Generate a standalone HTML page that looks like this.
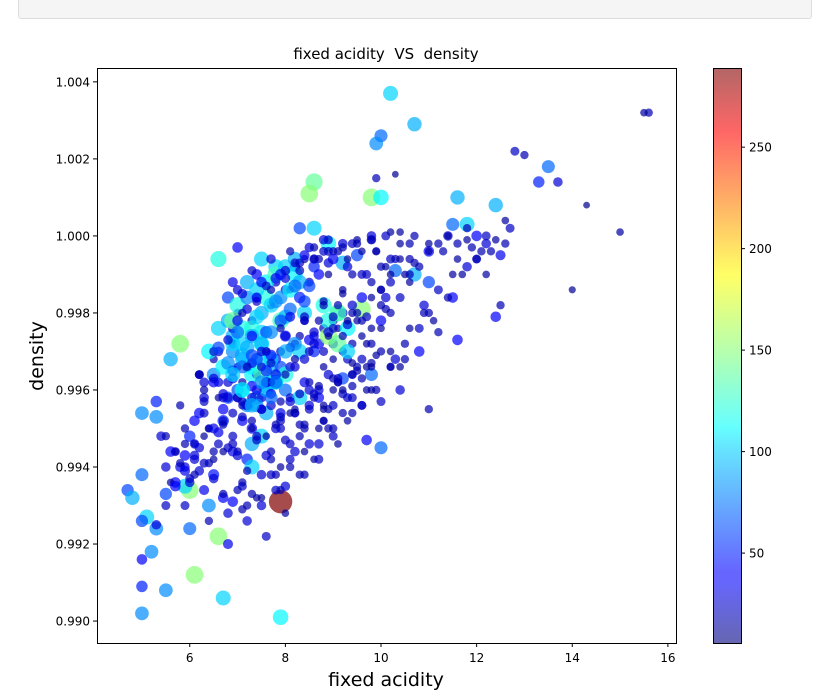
<!DOCTYPE html>
<html><head><meta charset="utf-8"><style>
body{margin:0;background:#fff;width:816px;height:700px;overflow:hidden;font-family:"Liberation Sans","DejaVu Sans",sans-serif}
svg text{font-family:"DejaVu Sans","Liberation Sans",sans-serif}
</style></head><body>
<div style="position:absolute;left:18px;top:-2px;width:792px;height:19px;background:#f5f5f5;border:1px solid #ddd;border-radius:3px"></div>
<svg id="chart" width="816" height="700" style="position:absolute;left:0;top:0">
<defs>
<linearGradient id="jet" x1="0" y1="1" x2="0" y2="0">
<stop offset="0" stop-color="#00007f"/><stop offset="0.11" stop-color="#0000ff"/><stop offset="0.125" stop-color="#0000ff"/><stop offset="0.34" stop-color="#00d4ff"/><stop offset="0.375" stop-color="#0ff"/><stop offset="0.5" stop-color="#7fff7f"/><stop offset="0.64" stop-color="#ff0"/><stop offset="0.89" stop-color="#f00"/><stop offset="1" stop-color="#7f0000"/>
</linearGradient></defs>
<g id="plot"></g>
<rect x="97.5" y="68.5" width="579" height="575" fill="none" stroke="#000" stroke-width="1"/>
<text x="386" y="59" font-size="15" text-anchor="middle">fixed acidity &#160;VS &#160;density</text>
<text x="386" y="686" font-size="19" text-anchor="middle">fixed acidity</text>
<text transform="translate(43,356) rotate(-90)" font-size="19" text-anchor="middle">density</text>
<rect x="713" y="68" width="28" height="575" fill="url(#jet)" opacity="0.6"/>
<rect x="713.5" y="68.5" width="28" height="575" fill="none" stroke="#000"/>
<g id="axes"></g>
</svg>
<script>
const acidity=[15.6,15.5,15.0,14.3,14.0,13.5,13.3,13.7,12.8,13.0,12.4,12.0,12.2,12.5,12.6,11.6,11.5,11.8,10.2,10.7,10.0,9.9,9.8,10.0,8.6,8.5,8.3,8.6,9.9,10.3,9.5,9.2,8.9,6.6,7.5,7.0,5.8,5.6,5.3,5.3,5.0,4.7,4.8,5.0,5.1,5.0,5.3,5.2,5.0,5.0,5.0,5.5,6.1,6.7,7.9,7.9,6.6,6.0,6.4,5.5,6.0,5.9,5.9,6.0,6.2,7.2,7.3,8.0,7.1,6.8,10.0,9.7,11.0,10.4,9.8,9.2,8.7,9.8,10.8,11.2,11.6,12.4,12.5,11.5,11.0,10.7,10.3,10.9,10.0,9.6,9.1,8.8,8.4,7.9,7.5,7.7,7.6,7.8,7.3,7.1,6.9,
6.3,6.5,6.7,6.9,7.0,7.2,7.4,7.6,7.8,8.0,8.2,8.4,8.6,8.8,9.0,9.2,9.4,9.6,9.8,10.0,
6.2,6.4,6.6,6.8,7.0,7.2,7.4,7.6,7.8,8.0,8.2,8.4,8.6,8.8,9.0,9.2,9.4,9.6,9.8,10.2,
6.1,6.3,6.5,6.7,6.9,7.1,7.3,7.5,7.7,7.9,8.1,8.3,8.5,8.7,8.9,9.1,9.3,9.5,9.7,10.1,
5.9,6.1,6.3,6.5,6.7,6.9,7.1,7.3,7.5,7.7,7.9,8.1,8.3,8.5,8.7,8.9,9.1,9.3,9.5,9.9,
5.7,5.9,6.1,6.3,6.5,6.7,6.9,7.1,7.3,7.5,7.7,7.9,8.1,8.3,8.5,8.7,8.9,9.3,9.7,10.5,
5.5,5.7,5.9,6.1,6.3,6.5,6.7,6.9,7.1,7.3,7.5,7.7,7.9,8.1,8.4,8.8,9.2,9.6,10.4,11.0,
5.4,5.6,5.8,6.2,6.6,7.0,7.4,7.8,8.2,8.6,9.0,9.4,9.8,10.2,10.6,11.0,11.4,11.8,12.2,12.6,
6.8,7.0,7.2,7.4,7.6,7.8,8.0,8.2,8.4,8.6,8.8,9.0,9.2,9.4,9.6,9.8,10.0,10.2,10.4,10.6,
7.0,7.3,7.6,7.9,8.2,8.5,8.8,9.1,9.4,9.7,10.0,10.3,10.6,10.9,11.2,11.5,11.8,12.1,12.4,12.7,
6.4,6.6,6.8,7.0,7.2,7.4,7.6,7.8,8.0,8.2,6.5,6.7,6.9,7.1,7.3,7.5,7.7,7.9,8.1,8.3,
7.2,7.5,7.8,8.1,8.4,8.7,9.0,9.3,9.6,9.9,10.2,10.5,10.8,11.1,11.4,11.7,12.0,12.3,9.0,9.5,
5.6,5.8,6.0,6.2,6.4,6.6,6.8,7.0,7.2,7.4,7.6,7.8,8.0,8.2,8.4,8.6,9.0,9.4,9.8,10.2,
6.9,7.1,7.3,7.5,7.7,6.9,7.1,7.3,7.5,7.7,8.9,9.1,9.3,8.9,9.1,9.3,7.6,7.8,8.0,7.4,
6.3,6.5,6.7,6.9,7.1,7.3,7.5,7.7,7.9,8.1,8.3,8.5,8.7,8.9,9.1,9.3,9.5,9.7,9.9,10.1,
6.4,6.6,6.8,7.0,7.2,7.4,7.6,7.8,8.0,8.2,8.4,8.6,8.8,9.0,9.2,9.4,9.6,9.8,10.0,10.2,
6.2,6.5,6.8,7.1,7.4,7.7,8.0,8.3,8.6,8.9,9.2,9.5,9.8,10.1,10.4,10.7,11.0,11.3,11.6,11.9,
6.6,6.8,7.0,7.2,7.4,7.6,7.8,8.0,8.2,8.4,6.7,6.9,7.1,7.3,7.5,7.7,7.9,8.1,8.3,8.5,
5.8,6.0,6.2,6.4,6.6,6.8,7.0,7.2,7.4,7.6,7.8,8.0,8.2,8.4,8.6,8.8,9.0,9.2,9.4,9.6,
6.9,7.1,7.3,7.5,7.7,7.9,8.1,8.3,8.5,8.7,8.9,9.1,9.3,9.5,9.7,9.9,10.1,10.3,10.5,10.7,
5.5,5.7,5.9,6.1,6.3,6.5,6.7,6.9,7.1,7.3,7.5,7.7,7.9,8.1,8.3,8.5,8.7,8.9,9.1,9.3,
7.0,7.2,7.4,7.6,7.8,8.0,8.2,8.4,8.6,8.8,7.1,7.3,7.5,7.7,7.9,8.1,8.3,8.5,8.7,8.9,
8.8,9.0,9.2,9.4,9.6,9.8,10.0,10.2,10.4,10.6,10.8,11.0,11.2,11.4,11.6,11.8,12.0,12.2,9.4,10.0,
5.3,5.5,5.7,5.9,6.1,6.3,6.5,6.7,6.9,7.1,7.3,7.5,7.7,7.9,8.1,8.3,8.5,8.7,8.9,9.1,
6.8,7.0,7.2,7.4,7.6,7.8,8.0,8.2,8.4,8.6,8.8,9.0,9.2,9.4,9.6,9.8,10.0,10.2,10.4,10.6,
7.4,7.6,7.8,8.0,8.2,7.3,7.5,7.7,7.9,8.1,6.9,7.1,7.3,7.5,7.7,8.4,8.6,8.8,9.0,9.2];
const density=[1.0032,1.0032,1.0001,1.0008,0.9986,1.0018,1.0014,1.0014,1.0022,1.0021,1.0008,1.0000,0.9998,0.9995,0.9998,1.0010,1.0003,1.0003,1.0037,1.0029,1.0026,1.0024,1.0010,1.0010,1.0014,1.0011,1.0002,1.0002,1.0015,1.0016,0.9995,0.9993,0.9998,0.9994,0.9994,0.9997,0.9972,0.9968,0.9957,0.9953,0.9954,0.9934,0.9932,0.9938,0.9927,0.9926,0.9924,0.9918,0.9916,0.9909,0.9902,0.9908,0.9912,0.9906,0.9901,0.9931,0.9922,0.9924,0.9930,0.9933,0.9934,0.9935,0.9943,0.9948,0.9939,0.9942,0.9940,0.9935,0.9929,0.9928,0.9945,0.9947,0.9955,0.9960,0.9964,0.9963,0.9958,0.9967,0.9970,0.9975,0.9973,0.9979,0.9982,0.9984,0.9988,0.9990,0.9991,0.9982,0.9978,0.9981,0.9980,0.9982,0.9980,0.9978,0.9975,0.9966,0.9961,0.9963,0.9964,0.9969,0.9974,
0.9962,0.9968,0.9955,0.9972,0.9960,0.9966,0.9958,0.9970,0.9962,0.9974,0.9966,0.9978,0.9970,0.9976,0.9968,0.9980,0.9972,0.9984,0.9976,0.9986,
0.9954,0.9950,0.9962,0.9958,0.9966,0.9956,0.9964,0.9954,0.9968,0.9960,0.9972,0.9962,0.9974,0.9966,0.9978,0.9970,0.9982,0.9974,0.9988,0.9990,
0.9946,0.9958,0.9944,0.9952,0.9948,0.9960,0.9950,0.9968,0.9956,0.9966,0.9958,0.9970,0.9962,0.9972,0.9964,0.9976,0.9968,0.9980,0.9972,0.9984,
0.9940,0.9952,0.9960,0.9964,0.9944,0.9976,0.9952,0.9978,0.9948,0.9982,0.9954,0.9986,0.9958,0.9988,0.9960,0.9990,0.9962,0.9992,0.9966,0.9996,
0.9936,0.9946,0.9942,0.9948,0.9938,0.9952,0.9944,0.9956,0.9946,0.9958,0.9942,0.9952,0.9954,0.9948,0.9956,0.9950,0.9955,0.9958,0.9960,0.9968,
0.9940,0.9944,0.9930,0.9938,0.9934,0.9942,0.9932,0.9946,0.9936,0.9950,0.9938,0.9944,0.9940,0.9946,0.9950,0.9952,0.9954,0.9956,0.9966,0.9980,
0.9948,0.9936,0.9956,0.9964,0.9970,0.9980,0.9984,0.9988,0.9992,0.9994,0.9996,0.9998,1.0000,1.0001,0.9998,0.9996,1.0000,1.0002,1.0000,1.0004,
0.9984,0.9986,0.9988,0.9990,0.9984,0.9992,0.9986,0.9990,0.9994,0.9992,0.9996,0.9994,0.9998,0.9990,0.9996,0.9999,0.9986,0.9994,0.9998,0.9994,
0.9958,0.9952,0.9948,0.9950,0.9954,0.9960,0.9956,0.9962,0.9958,0.9966,0.9970,0.9968,0.9976,0.9980,0.9986,0.9990,0.9992,0.9996,0.9999,1.0002,
0.9970,0.9976,0.9978,0.9982,0.9984,0.9986,0.9988,0.9990,0.9992,0.9994,0.9962,0.9966,0.9970,0.9972,0.9976,0.9980,0.9982,0.9984,0.9986,0.9988,
0.9930,0.9932,0.9934,0.9940,0.9944,0.9946,0.9950,0.9952,0.9956,0.9960,0.9966,0.9972,0.9976,0.9978,0.9984,0.9990,0.9994,0.9996,0.9972,0.9978,
0.9944,0.9940,0.9936,0.9964,0.9926,0.9958,0.9920,0.9934,0.9926,0.9932,0.9922,0.9938,0.9928,0.9944,0.9938,0.9942,0.9948,0.9954,0.9960,0.9966,
0.9972,0.9968,0.9966,0.9964,0.9962,0.9978,0.9976,0.9974,0.9972,0.9968,0.9978,0.9980,0.9976,0.9974,0.9972,0.9970,0.9960,0.9962,0.9964,0.9956,
0.9957,0.9963,0.9951,0.9965,0.9953,0.9967,0.9955,0.9969,0.9957,0.9971,0.9959,0.9973,0.9961,0.9975,0.9963,0.9977,0.9965,0.9979,0.9969,0.9981,
0.9950,0.9946,0.9958,0.9944,0.9956,0.9948,0.9962,0.9950,0.9964,0.9954,0.9968,0.9958,0.9970,0.9960,0.9974,0.9964,0.9978,0.9966,0.9982,0.9970,
0.9964,0.9970,0.9973,0.9980,0.9983,0.9986,0.9989,0.9991,0.9994,0.9996,0.9997,0.9999,0.9999,1.0000,1.0001,1.0000,0.9998,0.9996,0.9994,0.9997,
0.9971,0.9967,0.9975,0.9971,0.9979,0.9975,0.9983,0.9979,0.9987,0.9983,0.9959,0.9963,0.9957,0.9961,0.9955,0.9959,0.9953,0.9957,0.9951,0.9955,
0.9941,0.9937,0.9945,0.9941,0.9949,0.9945,0.9943,0.9939,0.9947,0.9943,0.9951,0.9947,0.9955,0.9951,0.9959,0.9955,0.9963,0.9959,0.9967,0.9963,
0.9988,0.9985,0.9991,0.9988,0.9994,0.9990,0.9996,0.9993,0.9997,0.9994,0.9999,0.9996,0.9994,0.9998,0.9990,0.9996,0.9992,0.9994,0.9990,0.9993,
0.9948,0.9944,0.9950,0.9946,0.9954,0.9950,0.9958,0.9954,0.9962,0.9958,0.9966,0.9962,0.9970,0.9966,0.9974,0.9970,0.9978,0.9974,0.9982,0.9978,
0.9978,0.9981,0.9984,0.9987,0.9989,0.9991,0.9993,0.9995,0.9997,0.9999,0.9966,0.9969,0.9972,0.9975,0.9978,0.9981,0.9984,0.9987,0.9990,0.9993,
0.9952,0.9956,0.9960,0.9964,0.9968,0.9972,0.9976,0.9980,0.9984,0.9988,0.9992,0.9996,0.9998,1.0000,0.9998,0.9999,0.9994,0.9990,0.9961,0.9957,
0.9925,0.9930,0.9935,0.9939,0.9943,0.9941,0.9937,0.9933,0.9931,0.9935,0.9933,0.9930,0.9938,0.9934,0.9942,0.9938,0.9946,0.9942,0.9950,0.9946,
0.9962,0.9958,0.9966,0.9960,0.9970,0.9964,0.9974,0.9968,0.9978,0.9972,0.9982,0.9976,0.9986,0.9980,0.9990,0.9984,0.9992,0.9988,0.9994,0.9990,
0.9968,0.9965,0.9962,0.9970,0.9972,0.9974,0.9970,0.9967,0.9976,0.9979,0.9964,0.9960,0.9956,0.9962,0.9958,0.9979,0.9975,0.9983,0.9979,0.9985];
const sulfur=[20,15,15,10,12,70,50,30,25,20,90,40,30,35,20,90,70,100,100,90,70,80,150,110,140,150,60,100,20,10,60,90,110,120,100,40,150,90,50,80,80,60,90,70,100,60,80,80,40,50,80,80,150,100,110,289,150,70,80,60,150,100,40,50,30,50,100,30,20,30,70,40,20,30,70,60,40,20,40,20,40,40,20,40,60,90,70,30,40,150,140,120,100,130,100,90,100,130,110,100,90,
30,20,40,25,60,35,80,20,90,45,30,20,50,25,15,30,20,40,15,20,
40,15,30,60,20,80,25,90,40,70,20,35,30,15,25,20,30,15,20,15,
15,30,20,50,25,90,40,100,30,60,25,100,20,40,30,15,25,20,15,30,
30,40,20,80,15,30,40,25,100,20,35,15,100,25,30,15,20,30,20,15,
40,20,30,15,45,25,35,20,90,30,20,25,15,20,30,15,20,25,15,20,
30,15,25,20,35,15,40,25,20,15,30,20,15,25,20,15,20,25,15,20,
30,15,20,25,30,20,35,25,40,30,20,25,30,15,20,40,30,20,25,15,
60,30,90,40,120,100,30,110,20,50,25,40,30,20,15,30,20,25,15,20,
30,20,15,25,20,30,15,20,25,15,20,30,15,20,25,15,30,20,15,25,
110,100,90,120,80,100,110,130,100,90,40,110,80,100,120,90,100,80,110,90,
20,15,25,20,15,30,20,15,25,20,15,20,25,15,20,15,25,20,30,15,
40,35,30,25,20,15,35,20,30,15,25,20,15,30,20,15,25,20,15,20,
100,90,110,130,100,140,120,90,110,100,120,130,110,150,140,100,90,100,120,80,
25,30,20,40,25,35,30,45,20,30,25,40,20,35,25,30,20,25,15,20,
20,25,30,20,35,25,40,30,20,25,30,20,25,15,20,25,20,15,20,15,
20,25,30,20,25,20,30,25,20,25,20,15,20,25,15,20,15,20,15,20,
60,80,70,90,100,60,80,90,70,60,30,35,25,40,30,35,25,30,20,25,
20,25,30,20,35,25,30,20,25,30,20,25,15,20,25,15,20,25,15,20,
35,30,25,40,30,45,20,25,30,20,25,20,15,20,25,20,15,20,15,20,
20,25,20,30,25,35,30,25,20,30,25,20,25,30,20,25,20,15,20,15,
40,30,35,25,40,30,25,35,20,30,70,60,90,80,60,70,50,60,40,30,
20,25,15,20,25,20,15,20,25,15,20,15,20,15,20,15,20,15,20,25,
30,25,40,35,30,25,30,20,40,25,20,30,25,20,25,20,30,25,20,15,
30,25,20,35,25,40,30,20,25,30,20,25,15,20,25,15,20,25,15,20,
60,50,70,90,80,40,30,25,20,35,100,110,90,80,70,25,30,20,25,15];

const X0=4.06,X1=16.17,PX0=97,PX1=676;
const Y0=0.98943,Y1=1.00436,PY0=643,PY1=68;
const C0=5.7,C1=289;
function sx(v){return PX0+(v-X0)/(X1-X0)*(PX1-PX0);}
function sy(v){return PY0-(v-Y0)/(Y1-Y0)*(PY0-PY1);}
function jet(t){
  t=Math.max(0,Math.min(1,t));
  const r=Math.min(4*t-1.5,-4*t+4.5),g=Math.min(4*t-0.5,-4*t+3.5),b=Math.min(4*t+0.5,-4*t+2.5);
  const c=v=>Math.round(255*Math.max(0,Math.min(1,v)));
  return `rgb(${c(r)},${c(g)},${c(b)})`;
}
const NS="http://www.w3.org/2000/svg";
const plot=document.getElementById('plot');
const n=Math.min(acidity.length,density.length,sulfur.length);
for(let i=0;i<n;i++){
  const c=document.createElementNS(NS,'circle');
  c.setAttribute('cx',sx(acidity[i]));
  c.setAttribute('cy',sy(density[i]));
  c.setAttribute('r',1.5+0.6*Math.sqrt(sulfur[i]));
  c.setAttribute('fill',jet((sulfur[i]-C0)/(C1-C0)));
  c.setAttribute('fill-opacity','0.7');
  
  
  plot.appendChild(c);
}
const xTicks=[6,8,10,12,14,16];
const yTicks=[0.990,0.992,0.994,0.996,0.998,1.000,1.002,1.004];
const cTicks=[50,100,150,200,250];
const axes=document.getElementById('axes');
function add(tag,attrs,txt){const e=document.createElementNS(NS,tag);for(const k in attrs)e.setAttribute(k,attrs[k]);if(txt!==undefined)e.textContent=txt;axes.appendChild(e);return e;}
xTicks.forEach(v=>{const x=sx(v);
  add('line',{x1:x,x2:x,y1:643,y2:647,stroke:'#000'});
  const t=add('text',{x:x,y:662,'font-size':12,'text-anchor':'middle'},String(v));
  
  
});
yTicks.forEach(v=>{const y=sy(v);
  add('line',{x1:93,x2:97,y1:y,y2:y,stroke:'#000'});
  const t=add('text',{x:90,y:y+4.5,'font-size':12,'text-anchor':'end'},v.toFixed(3));
  
  
});
cTicks.forEach(v=>{const y=643-(v-C0)/(C1-C0)*575;
  add('line',{x1:741,x2:745,y1:y,y2:y,stroke:'#000'});
  const t=add('text',{x:749,y:y+4.5,'font-size':12},String(v));
  
  
});
</script>
</body></html>
